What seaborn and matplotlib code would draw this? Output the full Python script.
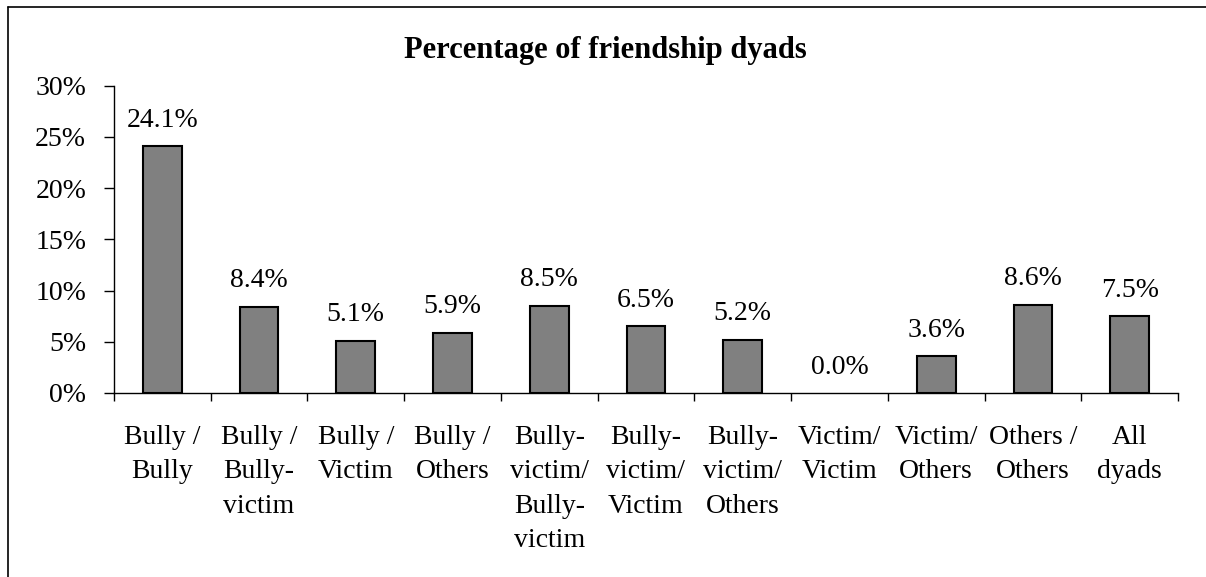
import matplotlib
matplotlib.use("Agg")
import matplotlib.pyplot as plt
from matplotlib.lines import Line2D
from matplotlib.ticker import FixedLocator, FuncFormatter
import seaborn as sns
import pandas as pd

categories = [
    "Bully /\nBully",
    "Bully /\nBully-\nvictim",
    "Bully /\nVictim",
    "Bully /\nOthers",
    "Bully-\nvictim/\nBully-\nvictim",
    "Bully-\nvictim/\nVictim",
    "Bully-\nvictim/\nOthers",
    "Victim/\nVictim",
    "Victim/\nOthers",
    "Others /\nOthers",
    "All\ndyads",
]
percentages = [24.1, 8.4, 5.1, 5.9, 8.5, 6.5, 5.2, 0.0, 3.6, 8.6, 7.5]
y_ticks = [0, 5, 10, 15, 20, 25, 30]
title = "Percentage of friendship dyads"

sns.set_theme(style="white")
plt.rcParams["font.family"] = ["Liberation Serif", "DejaVu Serif"]
plt.rcParams["text.color"] = "black"
plt.rcParams["xtick.color"] = "black"
plt.rcParams["ytick.color"] = "black"

FS = 20

df = pd.DataFrame({"pair": categories, "pct": percentages})

fig = plt.figure(figsize=(12.06, 5.77), dpi=100)
ax = fig.add_axes([0.0945, 0.3189, 0.8823, 0.5329])

sns.barplot(data=df, x="pair", y="pct", color="#808080", edgecolor="black",
            linewidth=1.5, width=0.4, saturation=1, ax=ax)

# a zero-height bar leaves no visible mark
for patch in ax.patches:
    if patch.get_height() == 0:
        patch.set_linewidth(0)

ax.set_xlim(-0.5, len(categories) - 0.5)
ax.set_ylim(0, 30)
ax.set_xlabel("")
ax.set_ylabel("")

# value labels above each bar
for i, v in enumerate(percentages):
    ax.annotate(f"{v:.1f}%", xy=(i, v), xytext=(0, 14), textcoords="offset points",
                ha="center", va="baseline", fontsize=FS, color="black")

# y axis
ax.yaxis.set_major_locator(FixedLocator(y_ticks))
ax.yaxis.set_major_formatter(FuncFormatter(lambda v, p: f"{v:.0f}%"))
ax.tick_params(axis="y", which="major", left=True, length=7, width=1,
               color="black", labelsize=FS, labelcolor="black", pad=13)

# x axis: tick marks on category boundaries, labels centered
n = len(categories)
ax.xaxis.set_major_locator(FixedLocator([k - 0.5 for k in range(n + 1)]))
ax.xaxis.set_major_formatter(FuncFormatter(lambda v, p: ""))
ax.xaxis.set_minor_locator(FixedLocator(list(range(n))))
ax.set_xticklabels(categories, minor=True)
ax.tick_params(axis="x", which="major", bottom=True, length=6, width=1, color="black")
ax.tick_params(axis="x", which="minor", bottom=True, length=0, labelsize=FS,
               labelcolor="black", pad=23)
for lbl in ax.get_xticklabels(minor=True):
    lbl.set_linespacing(1.5)
    lbl.set_verticalalignment("top")

for side in ["top", "right"]:
    ax.spines[side].set_visible(False)
for side in ["left", "bottom"]:
    ax.spines[side].set_color("black")
    ax.spines[side].set_linewidth(1)

fig.text(0.502, 0.913, title, ha="center", va="center", fontsize=22,
         fontweight="bold", color="black")

# chart area frame (left and top edges)
fig.add_artist(Line2D([0.0066, 0.0066], [0.0, 0.9879], transform=fig.transFigure,
                      color="black", linewidth=1.2))
fig.add_artist(Line2D([0.0066, 1.0], [0.9879, 0.9879], transform=fig.transFigure,
                      color="black", linewidth=1.2))

fig.savefig("out.png", dpi=100, facecolor="white")
